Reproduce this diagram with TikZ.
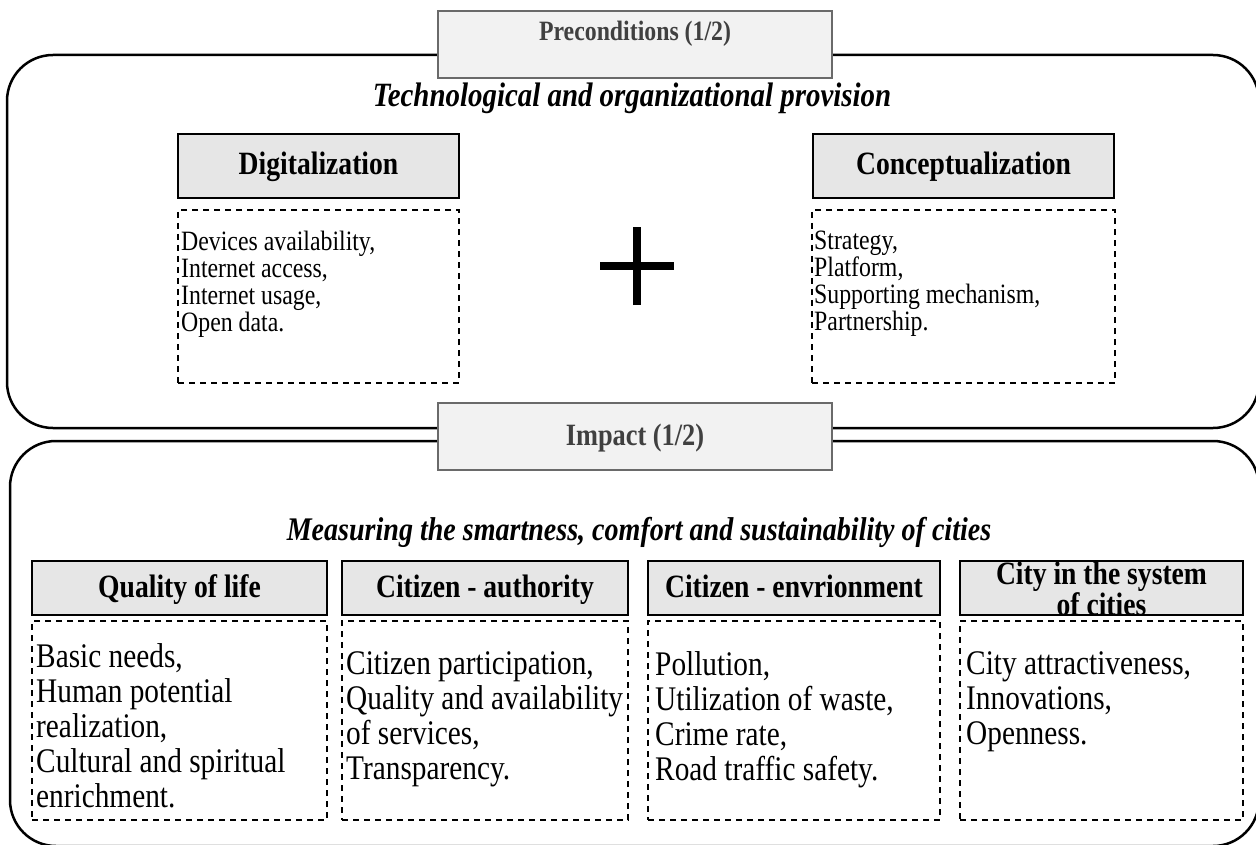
\documentclass[tikz,border=0pt]{standalone}
\usepackage{fontspec}
\setmainfont{Liberation Serif}[FakeStretch=0.85]
\definecolor{hdrfill}{HTML}{E6E6E6}
\definecolor{tagfill}{HTML}{F2F2F2}
\definecolor{tagdraw}{HTML}{6A6A6A}
\definecolor{tagtext}{HTML}{404040}
\tikzset{
  outer/.style={draw=black, line width=2.5pt, rounded corners=46pt},
  tag/.style={draw=tagdraw, fill=tagfill, line width=2pt, minimum width=394pt, minimum height=67pt, inner sep=0pt},
  tagtxt/.style={text=tagtext, inner sep=0pt},
  hdr/.style={draw=black, fill=hdrfill, line width=1.6pt, inner sep=0pt},
  hdrtxt/.style={inner sep=0pt, align=center, font=\fontsize{32.5}{23}\selectfont\bfseries},
  listbox/.style={draw=black, dash pattern=on 6pt off 5pt, line width=1.5pt, inner sep=0pt},
  topitems/.style={align=left, inner sep=0pt, anchor=north west, font=\fontsize{28}{27}\selectfont},
  botitems/.style={align=left, inner sep=0pt, anchor=north west, font=\fontsize{34.5}{35}\selectfont},
  subtitle/.style={inner sep=0pt, anchor=base, font=\bfseries\itshape},
}
\begin{document}
\begin{tikzpicture}[x=1pt,y=-1pt]
\useasboundingbox (0,0) rectangle (1256,845);
% outer frames
\draw[outer] (7,55) rectangle (1259,428);
\draw[outer] (10,441) rectangle (1259,846);
% tags
\node[tag] (pre) at (635,44.5) {};
\node[tagtxt, font=\fontsize{28}{30}\selectfont\bfseries] (pretxt) at (635,34) {Preconditions (1/2)};
\node[tag] (imp) at (635,436) {};
\node[tagtxt, font=\fontsize{31}{33}\selectfont\bfseries] (imptxt) at (635,438) {Impact (1/2)};
% subtitles
\node[subtitle, font=\fontsize{34}{36}\selectfont\bfseries\itshape] (tech) at (632,107) {Technological and organizational provision};
\node[subtitle, font=\fontsize{33}{36}\selectfont\bfseries\itshape] (meas) at (639,540) {Measuring the smartness, comfort and sustainability of cities};
% top headers
\node[hdr, minimum width=281pt, minimum height=64pt] (dig) at (318.5,166) {};
\node[hdr, minimum width=301pt, minimum height=64pt] (con) at (963.5,166) {};
\node[hdrtxt, anchor=base] (digtxt) at (318.5,175) {Digitalization};
\node[hdrtxt, anchor=base] (contxt) at (963.5,175) {Conceptualization};
% top lists
\node[listbox, minimum width=281pt, minimum height=173pt] (digl) at (318.5,296.5) {};
\node[listbox, minimum width=303pt, minimum height=173pt] (conl) at (963.5,296.5) {};
\node[topitems] (digt) at (181,231) {Devices availability,\\Internet access,\\Internet usage,\\Open data.};
\node[topitems] (cont) at (814,231) {Strategy,\\Platform,\\Supporting mechanism,\\Partnership.};
% plus
\coordinate (plus) at (637,266);
\draw[line width=8.5pt] ([xshift=-37pt]plus) -- ([xshift=37pt]plus);
\draw[line width=8.5pt] ([yshift=-39pt]plus) -- ([yshift=39pt]plus);
% bottom headers
\node[hdr, minimum width=295pt, minimum height=54pt] (q) at (179.5,588) {};
\node[hdr, minimum width=286pt, minimum height=54pt] (ca) at (485,588) {};
\node[hdr, minimum width=292pt, minimum height=54pt] (ce) at (794,588) {};
\node[hdr, minimum width=283pt, minimum height=54pt] (cs) at (1101.5,588) {};
\node[hdrtxt, anchor=base] (qtxt) at (179.5,597) {Quality of life};
\node[hdrtxt, anchor=base] (catxt) at (485,597) {Citizen - authority};
\node[hdrtxt, anchor=base] (cetxt) at (794,597) {Citizen - envrionment};
\node[hdrtxt] (cstxt) at (1101.5,589) {City in the system\\of cities};
% bottom lists
\node[listbox, minimum width=295pt, minimum height=199pt] (ql) at (179.5,720.5) {};
\node[listbox, minimum width=286pt, minimum height=199pt] (cal) at (485,720.5) {};
\node[listbox, minimum width=292pt, minimum height=199pt] (cel) at (794,720.5) {};
\node[listbox, minimum width=283pt, minimum height=199pt] (csl) at (1101.5,720.5) {};
\node[botitems] (qt) at (36,643) {Basic needs,\\Human potential\\realization,\\Cultural and spiritual\\enrichment.};
\node[botitems] (cat) at (346,651) {Citizen participation,\\Quality and availability\\of services,\\Transparency.};
\node[botitems] (cet) at (655,651) {Pollution,\\Utilization of waste,\\Crime rate,\\Road traffic safety.};
\node[botitems] (cst) at (966,651) {City attractiveness,\\Innovations,\\Openness.};
\end{tikzpicture}
\end{document}
